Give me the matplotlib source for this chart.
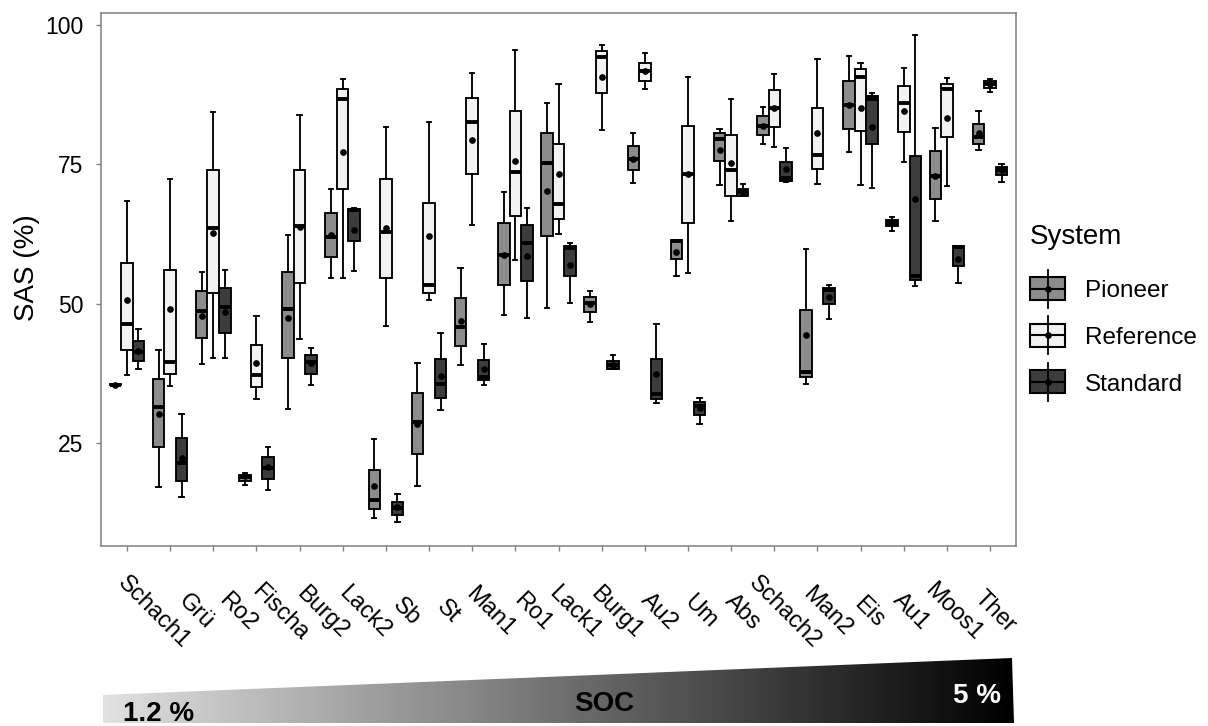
import numpy as np
import matplotlib.pyplot as plt
from matplotlib.patches import Polygon, Rectangle
from matplotlib.transforms import blended_transform_factory, ScaledTranslation

plt.rcParams['font.family'] = ['Liberation Sans', 'DejaVu Sans']

# sites ordered by SOC (low -> high)
sites = ["Schach1", "Grü", "Ro2", "Fischa", "Burg2", "Lack2", "Sb", "St", "Man1", "Ro1",
         "Lack1", "Burg1", "Au2", "Um", "Abs", "Schach2", "Man2", "Eis", "Au1", "Moos1", "Ther"]

# one row per site: whisker low, q1, median, q3, whisker high, mean
pioneer = [
    (35.4, 35.45, 35.5, 35.55, 35.6, 35.5),
    (17.2, 24.3, 31.5, 36.6, 41.7, 30.2),
    (39.2, 43.9, 48.7, 52.2, 55.7, 47.8),
    (17.5, 18.3, 19.0, 19.4, 19.7, 19.1),
    (31.1, 40.2, 49.1, 55.7, 62.3, 47.5),
    (54.6, 58.3, 62.0, 66.3, 70.6, 62.3),
    (11.6, 13.3, 14.8, 20.2, 25.7, 17.3),
    (17.3, 23.1, 28.8, 34.1, 39.3, 28.5),
    (39.1, 42.4, 45.8, 51.1, 56.4, 47.0),
    (48.0, 53.3, 58.7, 64.4, 70.1, 58.8),
    (49.3, 62.2, 75.2, 80.6, 86.0, 70.2),
    (46.8, 48.5, 50.2, 51.3, 52.3, 49.9),
    (71.6, 73.9, 76.0, 78.3, 80.6, 76.0),
    (55.0, 58.1, 61.2, 61.4, 61.5, 59.2),
    (71.3, 75.6, 79.6, 80.6, 81.4, 77.5),
    (78.6, 80.2, 81.9, 83.6, 85.3, 81.9),
    (35.6, 36.8, 37.8, 48.8, 59.8, 44.4),
    (77.2, 81.3, 85.6, 90.0, 94.4, 85.6),
    (63.1, 63.9, 64.5, 65.1, 65.6, 64.5),
    (64.8, 68.8, 72.9, 77.3, 81.5, 72.9),
    (77.5, 78.6, 79.9, 82.3, 84.6, 80.6),
]

reference = [
    (37.2, 41.7, 46.3, 57.3, 68.5, 50.6),
    (35.2, 37.4, 39.6, 56.0, 72.3, 49.0),
    (40.2, 51.9, 63.5, 73.9, 84.3, 62.6),
    (32.9, 35.1, 37.3, 42.7, 47.8, 39.3),
    (43.6, 53.8, 63.9, 73.9, 83.9, 63.8),
    (54.6, 70.6, 86.7, 88.5, 90.2, 77.2),
    (46.1, 54.6, 62.9, 72.3, 81.6, 63.5),
    (50.6, 52.0, 53.4, 68.0, 82.5, 62.2),
    (64.1, 73.3, 82.5, 86.9, 91.4, 79.3),
    (57.9, 65.7, 73.7, 84.6, 95.4, 75.6),
    (62.5, 65.2, 67.9, 78.7, 89.3, 73.3),
    (81.2, 87.7, 94.2, 95.3, 96.4, 90.6),
    (88.4, 90.0, 91.7, 93.2, 94.9, 91.7),
    (55.6, 64.4, 73.2, 81.9, 90.6, 73.2),
    (64.9, 69.4, 74.0, 80.3, 86.7, 75.2),
    (78.1, 81.6, 85.1, 88.3, 91.2, 85.0),
    (71.5, 74.1, 76.6, 85.1, 93.8, 80.6),
    (71.2, 80.9, 90.6, 92.0, 93.2, 85.0),
    (75.4, 80.7, 85.9, 89.1, 92.2, 84.5),
    (71.1, 79.8, 88.5, 89.4, 90.4, 83.3),
    (88.0, 88.7, 89.4, 89.9, 90.2, 89.4),
]

standard = [
    (38.4, 39.7, 41.3, 43.3, 45.4, 41.6),
    (15.3, 18.3, 21.4, 25.9, 30.3, 22.3),
    (40.2, 44.8, 49.5, 52.8, 56.0, 48.5),
    (16.7, 18.6, 20.5, 22.5, 24.3, 20.8),
    (35.5, 37.5, 39.6, 40.8, 42.0, 39.4),
    (55.8, 61.2, 66.8, 67.0, 67.1, 63.3),
    (10.9, 12.1, 13.4, 14.5, 16.0, 13.5),
    (31.0, 33.1, 35.6, 40.1, 44.8, 37.0),
    (35.5, 36.3, 36.9, 39.9, 42.8, 38.4),
    (47.5, 54.1, 60.9, 64.1, 67.1, 58.5),
    (50.2, 55.0, 60.0, 60.3, 60.9, 56.9),
    (38.4, 38.4, 39.1, 39.8, 40.9, 39.1),
    (32.3, 33.0, 33.9, 40.1, 46.4, 37.5),
    (28.4, 30.1, 31.6, 32.4, 33.1, 31.3),
    (69.3, 69.3, 70.0, 70.6, 71.5, 70.0),
    (71.9, 72.0, 72.5, 75.4, 78.0, 74.2),
    (47.3, 49.9, 52.5, 52.9, 53.4, 51.2),
    (70.7, 78.7, 86.7, 87.3, 87.8, 81.7),
    (53.2, 54.3, 54.9, 76.5, 98.1, 68.8),
    (53.7, 56.8, 60.2, 60.3, 60.4, 58.1),
    (71.9, 73.1, 73.9, 74.5, 75.0, 73.9),
]

systems = ["Pioneer", "Reference", "Standard"]
fills = ["#8c8c8c", "#f2f2f2", "#3c3c3c"]
offsets = [-0.267, 0.0, 0.267]

W, H = 1208, 726
fig = plt.figure(figsize=(W / 100, H / 100), dpi=100)


def px_box(x0, y0, x1, y1):
    return [x0 / W, 1 - y1 / H, (x1 - x0) / W, (y1 - y0) / H]


ax = fig.add_axes(px_box(101, 13, 1016, 546))

lw = 1.35
x = np.arange(1, len(sites) + 1)
for data, fill, off in zip([pioneer, reference, standard], fills, offsets):
    stats = [dict(whislo=r[0], q1=r[1], med=r[2], q3=r[3], whishi=r[4], mean=r[5], label=s)
             for r, s in zip(data, sites)]
    ax.bxp(stats, positions=x + off, widths=0.267, capwidths=0.1,
           patch_artist=True, showmeans=True, showfliers=False, manage_ticks=False,
           boxprops=dict(facecolor=fill, edgecolor="black", linewidth=lw),
           whiskerprops=dict(color="black", linewidth=lw),
           capprops=dict(color="black", linewidth=lw),
           medianprops=dict(color="black", linewidth=2.8, zorder=3),
           meanprops=dict(marker="o", markerfacecolor="black", markeredgecolor="black",
                          markersize=3.8, zorder=4))

ax.set_xlim(0.4, len(sites) + 0.6)
ax.set_ylim(6.6, 102.1)
ax.set_yticks([25, 50, 75, 100])
ax.set_xticks(x)
ax.set_xticklabels([])
for sp in ax.spines.values():
    sp.set_color("#808080")
    sp.set_linewidth(1.1)
ax.tick_params(axis="both", length=3.5, width=1.0, color="#808080")
ax.tick_params(axis="y", labelsize=16.5, pad=9, labelcolor="black")

# rotated site labels under the axis
trans = blended_transform_factory(ax.transData, fig.transFigure)
for i, s in enumerate(sites):
    dx = (27 - 1.1 * i) / 100
    t = trans + ScaledTranslation(dx, 0, fig.dpi_scale_trans)
    ax.text(x[i], 1 - 612 / H, s, transform=t, rotation=-45, rotation_mode="anchor",
            ha="center", va="center", fontsize=17, clip_on=False)

fig.text(27 / W, 1 - 268 / H, "SAS (%)", rotation=90, ha="center", va="center", fontsize=20)

# legend
lax = fig.add_axes(px_box(1020, 210, 1208, 410))
lax.set_xlim(1020, 1208)
lax.set_ylim(410, 210)
lax.axis("off")
lax.text(1030, 244, "System", fontsize=20, ha="left", va="baseline")
for k, (name, fill) in enumerate(zip(systems, fills)):
    cy = 288.5 + 46.7 * k
    lax.plot([1047.5, 1047.5], [cy - 19, cy + 19], color="black", lw=1.3)
    lax.add_patch(Rectangle((1030, cy - 11.5), 35, 23, facecolor=fill, edgecolor="black", lw=1.5))
    lax.plot([1030, 1065], [cy, cy], color="black", lw=1.5)
    lax.plot([1047.5], [cy], "o", color="black", markersize=3.8)
    lax.text(1085, cy + 8.7, name, fontsize=17.5, ha="left", va="baseline")

# SOC gradient wedge
wax = fig.add_axes([0, 0, 1, 1], zorder=-1)
wax.set_xlim(0, W)
wax.set_ylim(H, 0)
wax.axis("off")
grad = np.linspace(0.88, 0.0, 256).reshape(1, -1)
im = wax.imshow(grad, cmap="gray", vmin=0, vmax=1, extent=(103, 1014, 723, 655), aspect="auto")
wedge = Polygon([(103, 723), (103, 695), (1012, 658), (1014, 723)], closed=True,
                facecolor="none", edgecolor="none", transform=wax.transData)
wax.add_patch(wedge)
im.set_clip_path(wedge)
wax.text(123, 721, "1.2 %", fontsize=20, fontweight="bold", ha="left", va="baseline")
wax.text(604, 711, "SOC", fontsize=20, fontweight="bold", ha="center", va="baseline")
wax.text(1001, 703, "5 %", fontsize=20, fontweight="bold", color="white", ha="right", va="baseline")

fig.savefig("out.png", dpi=100)
